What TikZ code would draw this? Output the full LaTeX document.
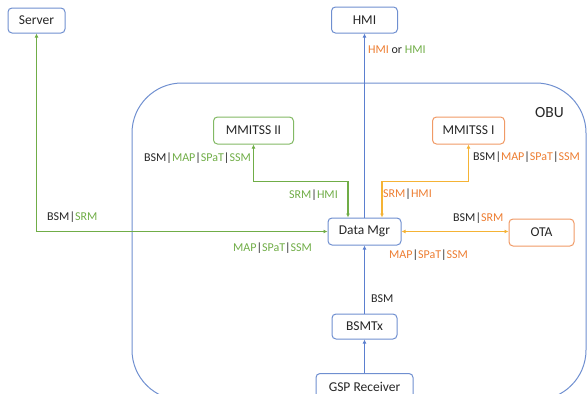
\documentclass[tikz,border=0pt]{standalone}
\usepackage{fontspec}
\setmainfont{Carlito}
\usetikzlibrary{arrows.meta}
\definecolor{bblue}{HTML}{6F8FD0}
\definecolor{bgreen}{HTML}{82B964}
\definecolor{borange}{HTML}{F09A66}
\definecolor{tgreen}{HTML}{70AD47}
\definecolor{torange}{HTML}{ED7D31}
\definecolor{ayellow}{HTML}{F5B335}
\definecolor{ablue}{HTML}{5B7FCF}
\definecolor{tdark}{HTML}{262626}
\newcommand\gtx[1]{\textcolor{tgreen}{#1}}
\newcommand\otx[1]{\textcolor{torange}{#1}}
\newcommand\vbr{\textcolor{tdark}{|}}
\tikzset{
  box/.style={draw, rounded corners=4pt, line width=1pt, inner sep=0pt,
    font=\fontsize{13.5}{16}\selectfont, text=tdark},
  lbl/.style={inner sep=0pt, font=\fontsize{12}{14}\selectfont, text=tdark},
  conn/.style={line width=1.3pt},
  tipboth/.style={{Latex[length=4pt,width=4pt]}-{Latex[length=4pt,width=4pt]}},
  tipend/.style={-{Latex[length=4pt,width=4pt]}}
}
\begin{document}
\begin{tikzpicture}[x=1pt,y=-1pt]
\useasboundingbox (0,0) rectangle (587,394);
% OBU container
\draw[bblue, line width=1pt, rounded corners=50pt] (132,83) rectangle (586,400);
\node[inner sep=0pt, font=\fontsize{15.5}{18}\selectfont, text=tdark] (obu) at (549.5,113) {OBU};
% boxes
\node[box, draw=bblue, minimum width=57pt, minimum height=25pt] (srv) at (36.5,20.5) {Server};
\node[box, draw=bblue, minimum width=66pt, minimum height=26pt] (hmi) at (364.5,20) {HMI};
\node[box, draw=bgreen, minimum width=80pt, minimum height=27pt] (m2) at (253.5,130.5) {MMITSS II};
\node[box, draw=borange, minimum width=72pt, minimum height=27pt] (m1) at (468.5,130.5) {MMITSS I};
\node[box, draw=bblue, minimum width=73pt, minimum height=27pt] (dm) at (364.5,231.5) {Data Mgr};
\node[box, draw=borange, minimum width=65pt, minimum height=27pt] (ota) at (541.5,232.5) {OTA};
\node[box, draw=bblue, minimum width=65pt, minimum height=25pt] (bsmtx) at (364.5,326.5) {BSMTx};
\node[box, draw=bblue, minimum width=97pt, minimum height=27pt, anchor=north] (gsp) at (364.5,373) {GSP Receiver};
% connectors
\draw[conn, ablue, tipend] (dm.north) -- (hmi.south);
\draw[conn, ablue, tipend] (bsmtx.north) -- (dm.south);
\draw[conn, ablue, tipend] (gsp.north) -- (bsmtx.south);
\draw[conn, tgreen, tipboth] (srv.south) |- (dm.west);
\draw[conn, tgreen, tipboth] (m2.south) -- ++(0,37) -| ([xshift=-16.5pt]dm.north);
\draw[conn, ayellow, tipboth] (m1.south) -- ++(0,37) -| ([xshift=17.5pt]dm.north);
\draw[conn, ayellow, tipboth] (dm.east) -- (dm.east -| ota.west);
% labels
\node[lbl, anchor=west] (l1) at (47,217) {BSM\vbr\gtx{SRM}};
\node[lbl, anchor=west] (l2) at (233,248) {\gtx{MAP}\vbr\gtx{SPaT}\vbr\gtx{SSM}};
\node[lbl, anchor=east] (l3) at (251,158) {BSM\vbr\gtx{MAP}\vbr\gtx{SPaT}\vbr\gtx{SSM}};
\node[lbl, anchor=west] (l4) at (289,195) {\gtx{SRM}\vbr\gtx{HMI}};
\node[lbl, anchor=west] (l5) at (368,50) {\otx{HMI} or \gtx{HMI}};
\node[lbl, anchor=west] (l6) at (473,157) {BSM\vbr\otx{MAP}\vbr\otx{SPaT}\vbr\otx{SSM}};
\node[lbl, anchor=west] (l7) at (383,194) {\otx{SRM}\vbr\otx{HMI}};
\node[lbl, anchor=west] (l8) at (453,218) {BSM\vbr\otx{SRM}};
\node[lbl, anchor=west] (l9) at (389,255) {\otx{MAP}\vbr\otx{SPaT}\vbr\otx{SSM}};
\node[lbl, anchor=west] (l10) at (371,299) {BSM};
\end{tikzpicture}
\end{document}
